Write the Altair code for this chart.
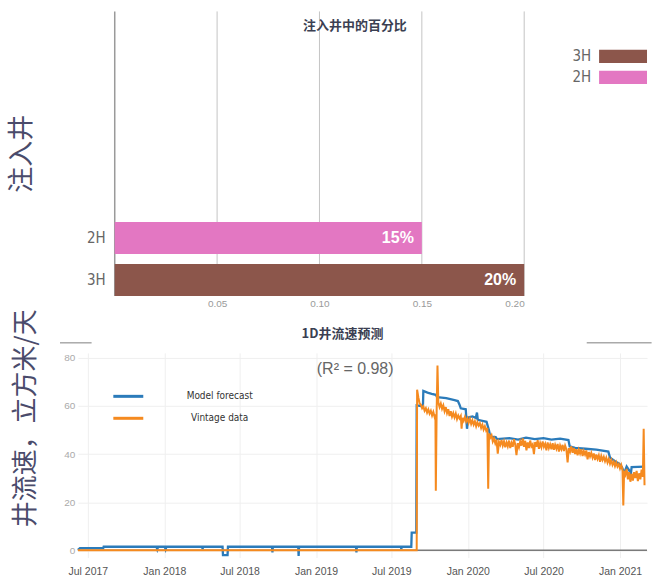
import altair as alt
import pandas as pd

# ---------------- data: top panel ----------------
wells = ["2H", "3H"]
shares = [0.15, 0.20]
legend_order = ["3H", "2H"]
bar_colors = ["#8c564b", "#e377c2"]
top_ticks = [0.05, 0.10, 0.15, 0.20]

# ---------------- data: bottom panel ----------------
series_names = ["Model forecast", "Vintage data"]
series_colors = ["#2b7bba", "#f58a1f"]
y_ticks = [0, 20, 40, 60, 80]

forecast_dates = [
    "2017-06-07", "2017-06-12", "2017-08-07", "2017-08-08", "2017-12-13", "2017-12-15", "2017-12-17",
    "2018-01-02", "2018-01-04", "2018-01-06", "2018-04-02", "2018-04-03", "2018-04-04",
    "2018-05-21", "2018-05-22", "2018-06-02", "2018-06-03", "2018-09-17", "2018-09-18", "2018-09-19",
    "2018-11-19", "2018-11-20", "2018-11-21", "2019-04-07", "2019-04-08", "2019-04-09",
    "2019-07-24", "2019-07-25", "2019-07-26", "2019-08-18", "2019-08-19", "2019-08-30",
    "2019-08-31", "2019-09-15", "2019-09-16", "2019-09-26", "2019-10-06", "2019-10-16",
    "2019-10-19", "2019-10-30", "2019-11-10", "2019-11-20", "2019-11-30", "2019-12-08",
    "2019-12-12", "2019-12-15", "2019-12-27", "2019-12-30", "2020-01-02", "2020-01-12",
    "2020-01-20", "2020-01-23", "2020-01-25", "2020-02-05", "2020-02-15", "2020-02-18",
    "2020-02-21", "2020-02-24", "2020-03-08", "2020-03-11", "2020-04-10", "2020-05-01",
    "2020-05-20", "2020-06-10", "2020-07-01", "2020-07-20", "2020-08-10", "2020-08-30",
    "2020-09-02", "2020-09-15", "2020-10-10", "2020-11-05", "2020-12-04", "2020-12-08",
    "2020-12-20", "2020-12-30", "2021-01-06", "2021-01-11", "2021-01-17", "2021-01-24",
    "2021-01-26", "2021-01-29", "2021-03-01",
]
forecast_values = [
    0.2, 0.9, 0.9, 1.5, 1.5, 0.4, 1.5,
    1.5, 0.4, 1.5, 1.5, 0.6, 1.5,
    1.5, -2.0, -2.0, 1.5, 1.5, -0.8, 1.5,
    1.5, -2.3, 1.5, 1.5, -0.8, 1.5,
    1.5, 0.5, 1.5, 1.5, 7.4, 7.4,
    60.2, 59.8, 66.2, 65.5, 65.0, 64.6,
    63.6, 63.4, 63.2, 62.8, 62.4, 62.0,
    60.5, 59.0, 58.6, 50.5, 55.2, 55.6,
    55.0, 57.2, 54.2, 53.8, 53.4, 51.6,
    49.8, 47.2, 47.0, 46.2, 46.6, 46.0,
    46.8, 46.2, 46.6, 46.0, 46.4, 45.8,
    43.2, 42.6, 42.2, 41.8, 41.0, 38.5,
    37.0, 36.0, 34.5, 32.0, 34.8, 33.0,
    30.0, 34.6, 34.8,
]

vintage_dates = [
    "2017-06-07", "2019-08-31", "2019-09-01", "2019-09-04", "2019-09-07", "2019-09-10", "2019-09-13",
    "2019-09-16", "2019-09-19", "2019-09-22", "2019-09-25", "2019-09-28", "2019-10-01", "2019-10-04",
    "2019-10-07", "2019-10-10", "2019-10-13", "2019-10-15", "2019-10-16", "2019-10-18", "2019-10-20",
    "2019-10-22", "2019-10-25", "2019-10-28", "2019-10-31", "2019-11-03", "2019-11-06", "2019-11-09",
    "2019-11-12", "2019-11-15", "2019-11-18", "2019-11-21", "2019-11-24", "2019-11-27", "2019-11-30",
    "2019-12-03", "2019-12-06", "2019-12-09", "2019-12-12", "2019-12-15", "2019-12-17", "2019-12-19",
    "2019-12-22", "2019-12-25", "2019-12-28", "2019-12-31", "2020-01-03", "2020-01-06", "2020-01-09",
    "2020-01-12", "2020-01-15", "2020-01-18", "2020-01-21", "2020-01-24", "2020-01-27", "2020-01-30",
    "2020-02-02", "2020-02-05", "2020-02-08", "2020-02-11", "2020-02-14", "2020-02-17", "2020-02-19",
    "2020-02-21", "2020-02-24", "2020-02-27", "2020-03-01", "2020-03-04", "2020-03-07", "2020-03-10",
    "2020-03-13", "2020-03-16", "2020-03-19", "2020-03-22", "2020-03-25", "2020-03-28", "2020-03-31",
    "2020-04-03", "2020-04-06", "2020-04-09", "2020-04-12", "2020-04-15", "2020-04-18", "2020-04-21",
    "2020-04-24", "2020-04-27", "2020-04-30", "2020-05-03", "2020-05-06", "2020-05-09", "2020-05-12",
    "2020-05-15", "2020-05-18", "2020-05-21", "2020-05-24", "2020-05-27", "2020-05-30", "2020-06-02",
    "2020-06-05", "2020-06-08", "2020-06-11", "2020-06-14", "2020-06-17", "2020-06-20", "2020-06-23",
    "2020-06-26", "2020-06-29", "2020-07-02", "2020-07-05", "2020-07-08", "2020-07-11", "2020-07-14",
    "2020-07-17", "2020-07-20", "2020-07-23", "2020-07-26", "2020-07-29", "2020-08-01", "2020-08-04",
    "2020-08-07", "2020-08-10", "2020-08-13", "2020-08-16", "2020-08-19", "2020-08-22", "2020-08-25",
    "2020-08-28", "2020-08-31", "2020-09-03", "2020-09-06", "2020-09-09", "2020-09-12", "2020-09-15",
    "2020-09-18", "2020-09-21", "2020-09-24", "2020-09-27", "2020-09-30", "2020-10-03", "2020-10-06",
    "2020-10-09", "2020-10-12", "2020-10-15", "2020-10-18", "2020-10-21", "2020-10-24", "2020-10-27",
    "2020-10-30", "2020-11-02", "2020-11-05", "2020-11-08", "2020-11-11", "2020-11-14", "2020-11-17",
    "2020-11-20", "2020-11-23", "2020-11-26", "2020-11-29", "2020-12-02", "2020-12-05", "2020-12-08",
    "2020-12-11", "2020-12-14", "2020-12-17", "2020-12-20", "2020-12-23", "2020-12-26", "2020-12-29",
    "2021-01-01", "2021-01-04", "2021-01-07", "2021-01-09", "2021-01-11", "2021-01-14", "2021-01-17",
    "2021-01-20", "2021-01-23", "2021-01-26", "2021-01-29", "2021-02-01", "2021-02-04", "2021-02-07",
    "2021-02-10", "2021-02-13", "2021-02-16", "2021-02-19", "2021-02-22", "2021-02-25", "2021-02-27",
    "2021-03-01",
]
vintage_values = [
    0.0, 0.0, 66.7, 63.5, 61.0, 60.5, 59.0,
    59.8, 58.0, 59.0, 57.2, 58.5, 56.8, 58.0,
    56.0, 57.5, 55.5, 56.5, 24.8, 58.0, 76.8,
    61.5, 59.5, 61.0, 58.8, 60.2, 57.8, 59.5,
    57.0, 58.6, 55.8, 57.8, 55.5, 57.0, 55.2,
    56.8, 54.5, 56.0, 54.8, 55.8, 50.5, 55.0,
    53.8, 55.4, 53.5, 54.8, 53.0, 54.6, 52.5,
    54.0, 52.2, 53.6, 51.5, 53.2, 51.8, 52.8,
    50.8, 52.2, 50.2, 51.5, 49.8, 50.8, 25.6,
    48.5, 46.8, 47.8, 45.2, 46.5, 44.5, 46.0,
    40.2, 45.0, 43.8, 45.8, 43.5, 45.2, 42.8,
    44.8, 43.2, 45.6, 42.5, 44.6, 43.0, 46.2,
    44.0, 39.5, 44.5, 42.8, 45.2, 43.5, 46.5,
    43.0, 45.5, 41.5, 44.8, 42.5, 45.6, 43.2,
    44.0, 40.0, 45.0, 43.0, 45.8, 42.2, 44.5,
    42.8, 45.2, 43.0, 44.2, 41.5, 44.8, 42.5,
    44.0, 42.0, 44.5, 41.8, 43.8, 42.2, 44.2,
    41.0, 43.5, 42.0, 43.8, 41.2, 43.5, 42.0,
    36.5, 42.5, 41.0, 43.2, 40.5, 42.5, 40.0,
    42.0, 39.5, 41.8, 40.2, 42.0, 39.2, 41.2,
    39.8, 41.5, 37.8, 40.8, 39.0, 40.5, 38.5,
    40.2, 37.5, 39.8, 38.0, 39.5, 36.8, 39.2,
    37.5, 38.8, 37.0, 38.5, 36.5, 38.0, 36.0,
    37.5, 35.5, 36.8, 35.0, 36.5, 34.8, 35.8,
    34.0, 35.5, 33.5, 18.6, 33.0, 31.5, 33.8,
    29.5, 32.5, 28.5, 31.8, 29.0, 32.5, 30.0,
    33.0, 28.8, 32.0, 29.5, 33.5, 30.5, 50.5,
    27.0,
]

CJK = "Noto Sans CJK SC"
LATIN = "Liberation Sans"
NARROW = "Liberation Sans Narrow, DejaVu Sans Condensed, Liberation Sans"

# ---------------- top panel ----------------
bars_df = pd.DataFrame({"well": wells, "share": shares})
ticks_df = pd.DataFrame({"tick": top_ticks})
one_row = pd.DataFrame({"k": [0]})

top_scale = alt.Scale(domain=[-0.018, 0.2], nice=False, zero=False)
top_axis = alt.Axis(values=top_ticks, format=".2f", title=None, domain=False, ticks=False,
                    grid=False, labelFontSize=10, labelColor="#9a9a9a", labelPadding=3,
                    labelFont=LATIN)

y_top = alt.Y(
    "well:N",
    scale=alt.Scale(domain=wells, range=[211, 285], paddingInner=0.24, paddingOuter=0),
    axis=alt.Axis(title="注入井", labels=False, ticks=False, domain=False, grid=False,
                  titleFont=CJK, titleFontSize=26, titleFontWeight="normal",
                  titleColor="#4a4b6b", titlePadding=43, titleY=142),
)

grid_rules = alt.Chart(ticks_df).mark_rule(color="#c4c4c4", strokeWidth=1).encode(
    x=alt.X("tick:Q", scale=top_scale, axis=top_axis)
)

zero_rule = alt.Chart(one_row).mark_rule(color="#9a9a9a", strokeWidth=1.5).encode(x=alt.datum(0))

bars = alt.Chart(bars_df).mark_bar().encode(
    x=alt.X("share:Q", scale=top_scale, axis=top_axis),
    y=y_top,
    color=alt.Color(
        "well:N",
        scale=alt.Scale(domain=legend_order, range=bar_colors),
        legend=alt.Legend(title=None, orient="none", legendX=534, legendY=33,
                          symbolType="M-2,-0.55L2,-0.55L2,0.55L-2,0.55Z", symbolSize=576,
                          symbolStrokeWidth=0, symbolOpacity=1, labelAlign="right",
                          labelOffset={"expr": "-44"}, labelFontSize=15, labelColor="#666666",
                          labelFont=NARROW, rowPadding=1, padding=0),
    ),
)

bar_text = alt.Chart(bars_df).mark_text(
    align="right", baseline="middle", dx=-8, color="white", fontSize=16,
    fontWeight="bold", font=LATIN,
).encode(x="share:Q", y="well:N", text=alt.Text("share:Q", format=".0%"))

well_text = alt.Chart(bars_df).mark_text(
    align="right", baseline="middle", dx=-9, color="#666666", fontSize=15, font=NARROW,
).encode(x=alt.datum(0), y="well:N", text="well:N")

top = alt.layer(grid_rules, zero_rule, bars, bar_text, well_text).properties(
    width=447,
    height=285,
    title=alt.TitleParams("注入井中的百分比", anchor="middle", frame="group", dx=54,
                          offset=-22, fontSize=13, fontWeight="bold", color="#3b3f52",
                          font=CJK),
)

# ---------------- bottom panel ----------------
fc_df = pd.DataFrame({"date": forecast_dates, "flow": forecast_values, "series": series_names[0]})
vd_df = pd.DataFrame({"date": vintage_dates, "flow": vintage_values, "series": series_names[1]})

x_bot = alt.X(
    "date:T",
    scale=alt.Scale(domain=[alt.DateTime(year=2017, month=6, date=7),
                            alt.DateTime(year=2021, month=3, date=7)]),
    axis=alt.Axis(values=[alt.DateTime(year=y, month=m, date=1)
                          for y, m in [(2017, 7), (2018, 1), (2018, 7), (2019, 1),
                                       (2019, 7), (2020, 1), (2020, 7), (2021, 1)]],
                  format="%b %Y", title=None, domain=False, ticks=False, labelFontSize=10.5,
                  labelColor="#555555", labelPadding=9, labelFont=LATIN,
                  gridColor="#efefef"),
)
y_bot = alt.Y(
    "flow:Q",
    scale=alt.Scale(domain=[-3, 82], nice=False, zero=False),
    axis=alt.Axis(values=y_ticks, title="井流速，立方米/天", titleFont=CJK, titleFontSize=26,
                  titleFontWeight="normal", titleColor="#4a4b6b", titlePadding=25, titleY=65,
                  labelFontSize=10, labelColor="#aaaaaa", labelPadding=3, labelFont=LATIN,
                  domain=False, ticks=False, gridColor="#efefef"),
)
color_bot = alt.Color(
    "series:N",
    scale=alt.Scale(domain=series_names, range=series_colors),
    legend=alt.Legend(title=None, orient="none", legendX=41.5, legendY=34.5,
                      symbolType="M-2,0L2,0", symbolSize=225, symbolStrokeWidth=3,
                      labelAlign="center", labelOffset=82.5, labelFontSize=10,
                      labelFont=NARROW, labelColor="#333333", rowPadding=7, padding=0),
)

base_rule = alt.Chart(one_row).mark_rule(color="#7a7a7a", strokeWidth=1.5).encode(y=alt.datum(0))

line_fc = alt.Chart(fc_df).mark_line(strokeWidth=2.3).encode(x=x_bot, y=y_bot, color=color_bot)
line_vd = alt.Chart(vd_df).mark_line(strokeWidth=2.0).encode(x=x_bot, y=y_bot, color=color_bot)

r2_text = alt.Chart(one_row).mark_text(
    text="(R² = 0.98)", fontSize=16, color="#666666", font=LATIN, align="center", baseline="middle"
).encode(x=alt.datum(alt.DateTime(year=2019, month=4, date=5)), y=alt.datum(75.4))

decor_left = alt.Chart(one_row).mark_rule(color="#aaaaaa", strokeWidth=1.5).encode(
    x=alt.datum(alt.DateTime(year=2017, month=4, date=25)),
    x2=alt.datum(alt.DateTime(year=2017, month=7, date=10)),
    y=alt.datum(86.2),
)
decor_right = alt.Chart(one_row).mark_rule(color="#aaaaaa", strokeWidth=1.5).encode(
    x=alt.datum(alt.DateTime(year=2020, month=10, date=13)),
    x2=alt.datum(alt.DateTime(year=2021, month=3, date=18)),
    y=alt.datum(86.2),
)

bottom = alt.layer(line_fc, base_rule, line_vd, r2_text, decor_left, decor_right).properties(
    width=570,
    height=205,
    title=alt.TitleParams("1D井流速预测", anchor="middle", frame="group", dx=-20, offset=-32,
                          fontSize=13, fontWeight="bold", color="#3b3f52", font=CJK),
)

chart = alt.vconcat(top, bottom, spacing=57, bounds="flush").resolve_scale(
    color="independent"
).configure_view(stroke=None).properties(
    padding={"left": 9, "top": 10, "right": 0, "bottom": 0}
)

chart.save("out.html", embed_options={"renderer": "svg", "actions": False})
